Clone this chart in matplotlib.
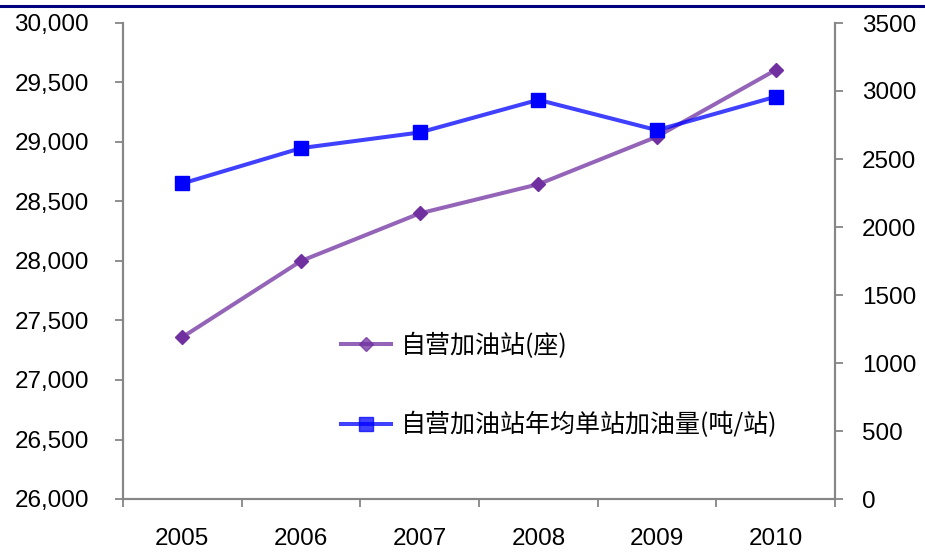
import matplotlib
matplotlib.use("Agg")
import matplotlib.pyplot as plt
from matplotlib.lines import Line2D
from matplotlib.ticker import FuncFormatter, MultipleLocator

plt.rcParams['font.family'] = ['Liberation Sans', 'Noto Sans CJK SC', 'DejaVu Sans']

years = ['2005', '2006', '2007', '2008', '2009', '2010']
stations = [27360, 28000, 28400, 28645, 29045, 29605]        # 自营加油站(座)
volume_per_station = [2320, 2580, 2695, 2935, 2712, 2958]    # 年均单站加油量(吨/站)

label_stations = '自营加油站(座)'
label_volume = '自营加油站年均单站加油量(吨/站)'

W, H, DPI = 925, 552, 100
fig = plt.figure(figsize=(W / DPI, H / DPI), dpi=DPI)
fig.patch.set_facecolor('white')

left, right, bottom, top = 123, 835, 499, 23
ax = fig.add_axes([left / W, 1 - bottom / H, (right - left) / W, (bottom - top) / H])
ax2 = ax.twinx()

grey = '#868686'
purple = '#7030A0'
blue = '#0000FF'
x = list(range(len(years)))

ax.plot(x, stations, color=purple, lw=2.9, alpha=0.75, zorder=3)
ax.plot(x, stations, ls='none', marker='D', ms=7.3, color=purple, mec=purple, zorder=4)
ax2.plot(x, volume_per_station, color=blue, lw=2.9, alpha=0.75, zorder=3)
ax2.plot(x, volume_per_station, ls='none', marker='s', ms=10.5, color=blue, mec=blue, zorder=4)

# left axis
ax.set_ylim(26000, 30000)
ax.yaxis.set_major_locator(MultipleLocator(500))
ax.yaxis.set_major_formatter(FuncFormatter(lambda v, p: f'{v:,.0f}'))
# right axis
ax2.set_ylim(0, 3500)
ax2.yaxis.set_major_locator(MultipleLocator(500))
ax2.yaxis.set_major_formatter(FuncFormatter(lambda v, p: f'{v:.0f}'))

# categorical x axis: tick marks on boundaries, labels at centres
ax.set_xlim(-0.5, len(years) - 0.5)
ax.set_xticks([i - 0.5 for i in range(len(years) + 1)])
ax.set_xticklabels([])
ax.set_xticks(x, minor=True)
ax.set_xticklabels(years, minor=True)
ax.tick_params(axis='x', which='major', direction='out', length=5.5, width=1.3, color=grey)
ax.tick_params(axis='x', which='minor', length=0, pad=21, labelsize=17.5)

ax.tick_params(axis='y', direction='out', length=5.5, width=1.3, color=grey,
               pad=19, labelsize=17.5)
ax2.tick_params(axis='y', direction='out', length=5.5, width=1.3, color=grey,
                pad=14, labelsize=17.5)

for a in (ax, ax2):
    a.spines['top'].set_visible(False)
    for s in ('left', 'right', 'bottom'):
        a.spines[s].set_color(grey)
        a.spines[s].set_linewidth(1.5)
    a.set_facecolor('none')

# legend
h1 = Line2D([], [], color=purple, lw=2.9, alpha=0.75, marker='D', ms=7.3,
            mfc=purple, mec=purple)
h2 = Line2D([], [], color=blue, lw=2.9, alpha=0.75, marker='s', ms=10.5,
            mfc=blue, mec=blue)
leg = ax2.legend([h1, h2], [label_stations, label_volume],
                 loc='upper left', bbox_to_anchor=(341 / W, 1 - 333 / H),
                 bbox_transform=fig.transFigure, frameon=False,
                 prop={'family': ['Noto Sans CJK SC', 'DejaVu Sans'], 'size': 18},
                 handlelength=2.0, handletextpad=0.4, labelspacing=2.12,
                 borderaxespad=0, borderpad=0)

# header rule
fig.add_artist(Line2D([0, 1], [1 - 6 / H, 1 - 6 / H], transform=fig.transFigure,
                      color='#000080', lw=2.2))

fig.savefig('out.png', dpi=DPI, facecolor='white')
